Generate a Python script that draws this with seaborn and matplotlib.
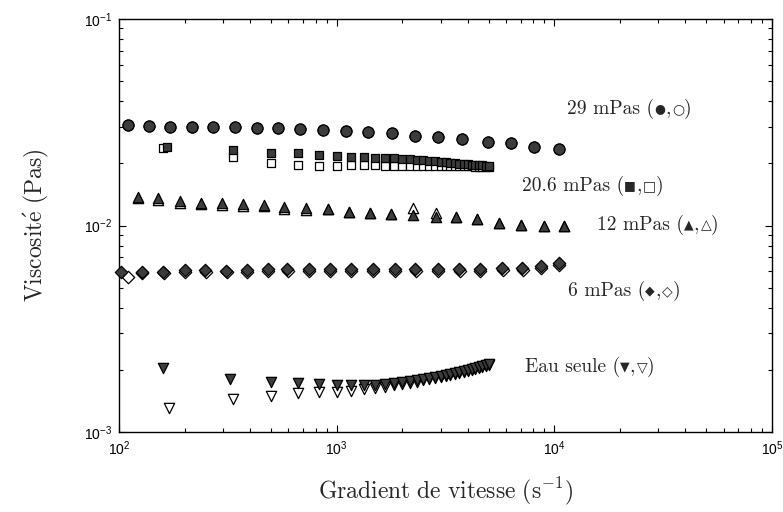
import matplotlib
matplotlib.use("Agg")
import matplotlib.pyplot as plt
import seaborn as sns
import pandas as pd
from matplotlib.ticker import LogLocator, NullFormatter

sns.set_style("ticks")
plt.rcParams["font.family"] = ["Liberation Sans", "DejaVu Sans"]
plt.rcParams["mathtext.fontset"] = "cm"

# --- 29 mPas (filled / open circles)
x_29 = [110, 137, 172, 217, 271, 342, 432, 540, 681, 869, 1109, 1400, 1803, 2301,
        2936, 3784, 4943, 6300, 8035, 10470]
mu_29_fill = [0.03066, 0.03042, 0.03009, 0.03009, 0.03009, 0.03009, 0.02975, 0.02955,
              0.02923, 0.02900, 0.02878, 0.02846, 0.02796, 0.02722, 0.02674, 0.02615,
              0.02546, 0.02501, 0.02407, 0.02339]
mu_29_open = [0.03066, 0.03042, 0.03009, 0.03009, 0.03009, 0.03009, 0.02975, 0.02955,
              0.02923, 0.02900, 0.02878, 0.02846, 0.02796, 0.02722, 0.02674, 0.02615,
              0.02546, 0.02501, 0.02407, 0.02339]

# --- 20.6 mPas (filled / open squares); squares and water share the same ramp
x_ramp_fill = [166, 333, 500, 667, 833, 1000, 1167, 1333, 1500, 1667, 1833, 2000, 2167,
               2333, 2500, 2667, 2833, 3000, 3167, 3333, 3500, 3667, 3833, 4000, 4167,
               4333, 4500, 4667, 4833, 5000]
x_sq_open = [160, 333, 500, 667, 833, 1000, 1167, 1333, 1500, 1667, 1833, 2000, 2167,
             2333, 2500, 2667, 2833, 3000, 3167, 3333, 3500, 3667, 3833, 4000, 4167,
             4333, 4500, 4667, 4833, 5000]
mu_206_fill = [0.02408, 0.02321, 0.02252, 0.02236, 0.02195, 0.02171, 0.02154, 0.02140,
               0.02130, 0.02123, 0.02111, 0.02099, 0.02088, 0.02076, 0.02065, 0.02053,
               0.02042, 0.02030, 0.02019, 0.02012, 0.02003, 0.01996, 0.01990, 0.01981,
               0.01974, 0.01968, 0.01959, 0.01953, 0.01946, 0.01937]
mu_206_open = [0.02365, 0.02140, 0.02014, 0.01963, 0.01941, 0.01941, 0.01963, 0.01963,
               0.01963, 0.01952, 0.01952, 0.01952, 0.01941, 0.01941, 0.01941, 0.01941,
               0.01941, 0.01941, 0.01941, 0.01931, 0.01931, 0.01931, 0.01931, 0.01931,
               0.01931, 0.01920, 0.01920, 0.01920, 0.01920, 0.01920]

# --- 12 mPas (filled / open up-triangles)
x_12 = [122, 151, 191, 238, 298, 372, 465, 574, 725, 916, 1143, 1429, 1786, 2254, 2851,
        3516, 4436, 5546, 6998, 8933, 11040]
mu_12_fill = [0.01379, 0.01354, 0.01314, 0.01289, 0.01281, 0.01267, 0.01257, 0.01225,
              0.01211, 0.01198, 0.01166, 0.01146, 0.01133, 0.01124, 0.01103, 0.01103,
              0.01072, 0.01025, 0.01006, 0.00995, 0.00995]
mu_12_open = [0.01356, 0.01331, 0.01292, 0.01267, 0.01259, 0.01245, 0.01236, 0.01204,
              0.01190, 0.01198, 0.01166, 0.01146, 0.01133, 0.01211, 0.01146, 0.01103,
              0.01072, 0.01025, 0.01006, 0.00995, 0.00995]

# --- 6 mPas (filled / open diamonds)
x_6_fill = [102, 127, 160, 200, 249, 311, 387, 482, 594, 743, 929, 1164, 1472, 1845,
            2301, 2924, 3664, 4539, 5768, 7129, 8670, 10520]
x_6_open = [110, 128, 161, 201, 250, 312, 388, 484, 596, 745, 931, 1167, 1476, 1850,
            2306, 2930, 3672, 4549, 5780, 7144, 8690, 10540]
mu_6_fill = [0.005975, 0.005975, 0.005975, 0.006089, 0.006089, 0.006041, 0.006089,
             0.006137, 0.006137, 0.006123, 0.006123, 0.006123, 0.006123, 0.006137,
             0.006137, 0.006157, 0.006157, 0.006157, 0.006192, 0.006192, 0.006367,
             0.006560]
mu_6_open = [0.005613, 0.005873, 0.005873, 0.005986, 0.005986, 0.005938, 0.005986,
             0.006033, 0.006033, 0.006019, 0.006019, 0.006019, 0.006019, 0.006033,
             0.006033, 0.006052, 0.006052, 0.006052, 0.006087, 0.006087, 0.006259,
             0.006448]

# --- water only (filled / open down-triangles)
x_w_fill = [160, 324, 500, 667, 833, 1000, 1167, 1333, 1500, 1667, 1833, 2000, 2167,
            2333, 2500, 2667, 2833, 3000, 3167, 3333, 3500, 3667, 3833, 4000, 4167,
            4333, 4500, 4667, 4833, 5000]
x_w_open = [170, 333, 500, 667, 833, 1000, 1167, 1333, 1500, 1667, 1833, 2000, 2167,
            2333, 2500, 2667, 2833, 3000, 3167, 3333, 3500, 3667, 3833, 4000, 4167,
            4333, 4500, 4667, 4833, 5000]
mu_w_fill = [0.002035, 0.001800, 0.001752, 0.001721, 0.001708, 0.001695, 0.001695,
             0.001689, 0.001698, 0.001708, 0.001727, 0.001746, 0.001766, 0.001786,
             0.001806, 0.001826, 0.001846, 0.001867, 0.001888, 0.001909, 0.001931,
             0.001953, 0.001974, 0.001996, 0.002019, 0.002042, 0.002065, 0.002088,
             0.002111, 0.002135]
mu_w_open = [0.001303, 0.001440, 0.001494, 0.001540, 0.001567, 0.001567, 0.001585,
             0.001610, 0.001628, 0.001657, 0.001680, 0.001708, 0.001727, 0.001756,
             0.001780, 0.001802, 0.001826, 0.001846, 0.001867, 0.001888, 0.001909,
             0.001931, 0.001953, 0.001974, 0.001996, 0.002019, 0.002042, 0.002065,
             0.002088, 0.002111]

series_names = ["29 mPas", "20.6 mPas", "12 mPas", "6 mPas", "Eau seule"]
series_symbols = [("●", "○"), ("■", "□"), ("▲", "△"), ("◆", "◇"), ("▼", "▽")]

W, H = 783, 512
fig = plt.figure(figsize=(W / 100, H / 100), dpi=100)
ax = fig.add_axes([119 / W, 1 - 432 / H, (772 - 119) / W, (432 - 19) / H])

FILL = "#3c3c3c"


def scat(x, y, marker, size, filled, zorder):
    df = pd.DataFrame({"x": x, "y": y})
    sns.scatterplot(data=df, x="x", y="y", ax=ax, marker=marker, s=size,
                    color=FILL if filled else "white", edgecolor="black",
                    linewidth=0.9, zorder=zorder, legend=False, clip_on=False)


scat(x_29, mu_29_open, "o", 62, False, 2)
scat(x_29, mu_29_fill, "o", 62, True, 3)
scat(x_sq_open, mu_206_open, "s", 30, False, 2)
scat(x_ramp_fill, mu_206_fill, "s", 30, True, 3)
scat(x_12, mu_12_open, "^", 55, False, 2)
scat(x_12, mu_12_fill, "^", 55, True, 3)
scat(x_6_open, mu_6_open, "D", 40, False, 2)
scat(x_6_fill, mu_6_fill, "D", 40, True, 3)
scat(x_w_open, mu_w_open, "v", 55, False, 2)
scat(x_w_fill, mu_w_fill, "v", 55, True, 3)

ax.set_xscale("log")
ax.set_yscale("log")
ax.set_xlim(1e2, 1e5)
ax.set_ylim(1e-3, 1e-1)
ax.xaxis.set_major_locator(LogLocator(base=10, numticks=10))
ax.yaxis.set_major_locator(LogLocator(base=10, numticks=10))
ax.xaxis.set_minor_locator(LogLocator(base=10, subs=range(2, 10), numticks=20))
ax.yaxis.set_minor_locator(LogLocator(base=10, subs=range(2, 10), numticks=20))
ax.xaxis.set_minor_formatter(NullFormatter())
ax.yaxis.set_minor_formatter(NullFormatter())

for s in ax.spines.values():
    s.set_visible(True)
    s.set_linewidth(1.0)
    s.set_color("black")
ax.tick_params(which="both", direction="in", top=True, right=True, colors="black",
               labelsize=10, width=0.8)
ax.tick_params(which="major", length=5, pad=5)
ax.tick_params(which="minor", length=3)

ax.set_xlabel(r"$\mathrm{Gradient\ de\ vitesse\ (s^{-1})}$", fontsize=17, labelpad=13)
ax.set_ylabel(r"$\mathrm{Viscosit\acute{e}\ (Pas)}$", fontsize=17, labelpad=24)

# series captions: Computer Modern letters, geometric symbols from DejaVu Sans
label_pos = [(567, 109), (522, 186), (597, 225), (568, 291), (525, 367)]
for (px, py), name, (sf, so) in zip(label_pos, series_names, series_symbols):
    t = fig.text(px / W, 1 - py / H, f"{name} (", fontsize=14, ha="left", va="center",
                 family=["cmr10", "DejaVu Sans"])
    fig.canvas.draw()
    x_cur = t.get_window_extent().x1 / W
    for piece, fam, fs in [(sf, "DejaVu Sans", 9), (",", "cmr10", 14),
                           (so, "DejaVu Sans", 10), (")", "cmr10", 14)]:
        tt = fig.text(x_cur, 1 - py / H, piece, fontsize=fs, ha="left", va="center",
                      family=[fam, "DejaVu Sans"])
        fig.canvas.draw()
        x_cur = tt.get_window_extent().x1 / W + (0.002 if piece == "," else 0)

fig.savefig("out.png", dpi=100)
